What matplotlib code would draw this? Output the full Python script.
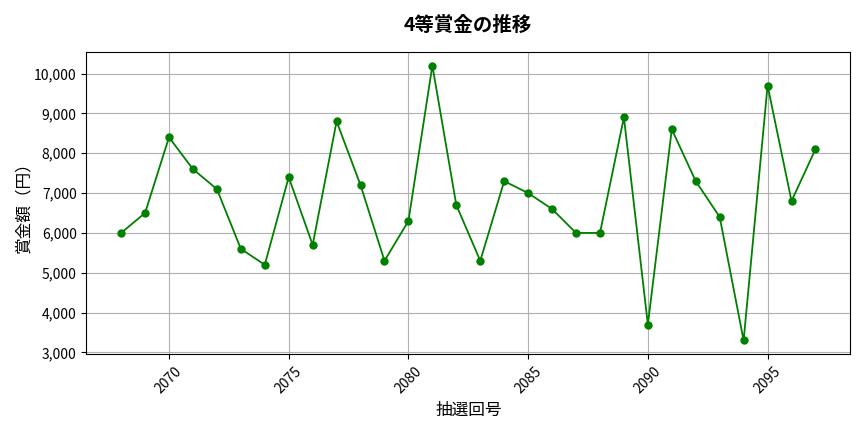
import matplotlib
matplotlib.use("Agg")
import matplotlib.pyplot as plt
from matplotlib.ticker import FuncFormatter

plt.rcParams['font.family'] = ['Noto Sans CJK JP', 'DejaVu Sans']

# 抽選回号と4等賞金
draws = list(range(2068, 2098))
prize = [6000, 6500, 8400, 7600, 7100, 5600, 5200, 7400, 5700, 8800,
         7200, 5300, 6300, 10200, 6700, 5300, 7300, 7000, 6600, 6000,
         6000, 8900, 3700, 8600, 7300, 6400, 3300, 9700, 6800, 8100]

fig, ax = plt.subplots(figsize=(8.64, 4.32), dpi=100)
ax.plot(draws, prize, marker='o', color='green', markersize=5, linewidth=1.3)

ax.set_title('4等賞金の推移', fontsize=14, fontweight='bold', pad=15)
ax.set_xlabel('抽選回号', fontsize=12, labelpad=4)
ax.set_ylabel('賞金額（円）', fontsize=12, labelpad=1)
ax.yaxis.set_major_formatter(FuncFormatter(lambda v, p: f'{int(v):,}'))
ax.tick_params(axis='x', labelrotation=45, labelsize=10)
ax.tick_params(axis='y', labelsize=10)
ax.grid(True)

fig.subplots_adjust(left=0.1, right=0.984, top=0.88, bottom=0.18)
fig.savefig('out.png', dpi=100)
